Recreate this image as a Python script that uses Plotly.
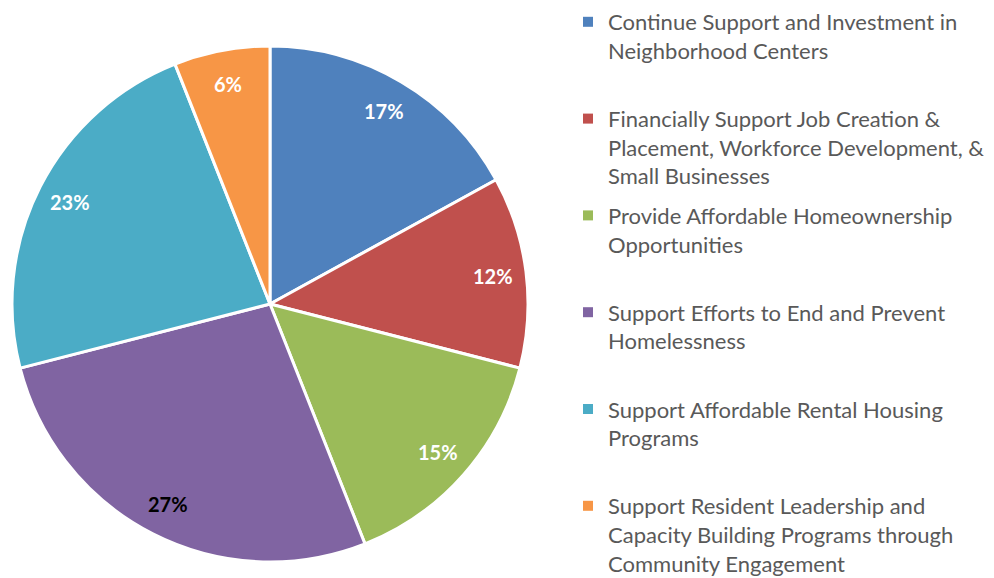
import math
import plotly.graph_objects as go

categories = [
    "Continue Support and Investment in<br>Neighborhood Centers",
    "Financially Support Job Creation &<br>Placement, Workforce Development, &<br>Small Businesses",
    "Provide Affordable Homeownership<br>Opportunities",
    "Support Efforts to End and Prevent<br>Homelessness",
    "Support Affordable Rental Housing<br>Programs",
    "Support Resident Leadership and<br>Capacity Building Programs through<br>Community Engagement",
]
values = [17, 12, 15, 27, 23, 6]
colors = ["#4F81BD", "#C0504D", "#9BBB59", "#8064A2", "#4BACC6", "#F79646"]
label_colors = ["white", "white", "white", "black", "white", "white"]

W, H = 994, 578
# pie domain (paper fractions)
dom_x = [4 / W, 520 / W]
dom_y = [24 / H, 540 / H]

fig = go.Figure()
fig.add_trace(go.Pie(
    labels=[c.replace("<br>", " ") for c in categories],
    values=values,
    sort=False,
    direction="clockwise",
    rotation=0,
    marker=dict(colors=colors, line=dict(color="white", width=3)),
    textinfo="none",
    domain=dict(x=dom_x, y=dom_y),
    hoverinfo="label+percent",
    showlegend=False,
))

# legend entries (one per slice), padded to equal height
max_lines = max(c.count("<br>") + 1 for c in categories)
for cat, col in zip(categories, colors):
    pad = max_lines - (cat.count("<br>") + 1)
    fig.add_trace(go.Scatter(
        x=[None], y=[None], mode="markers",
        marker=dict(symbol="square", size=10, color=col),
        name=cat + "<br> " * pad,
        legendgroup=cat,
        showlegend=True,
        hoverinfo="skip",
    ))

# percentage labels placed along each slice's mid-angle
total = sum(values)
cx = (dom_x[0] + dom_x[1]) / 2 * W
cy = (1 - (dom_y[0] + dom_y[1]) / 2) * H
R = min((dom_x[1] - dom_x[0]) * W, (dom_y[1] - dom_y[0]) * H) / 2
r_lab = 0.87 * R
cum = 0
for v, tc in zip(values, label_colors):
    frac = (cum + v / 2) / total
    ang = math.radians(90 - 360 * frac)
    px = cx + r_lab * math.cos(ang)
    py = cy - r_lab * math.sin(ang)
    fig.add_annotation(
        x=px / W, y=1 - py / H, xref="paper", yref="paper",
        xanchor="center", yanchor="middle",
        text="<b>%d%%</b>" % round(100 * v / total),
        showarrow=False,
        font=dict(family="Lato", size=20, color=tc),
    )
    cum += v

fig.update_layout(
    width=W, height=H,
    margin=dict(l=0, r=0, t=0, b=0, autoexpand=False),
    paper_bgcolor="white",
    plot_bgcolor="white",
    xaxis=dict(visible=False),
    yaxis=dict(visible=False),
    showlegend=True,
    legend=dict(
        x=560 / W, xanchor="left",
        y=1 + 7 / H, yanchor="top",
        valign="top",
        font=dict(family="Lato", size=22, color="#595959"),
        traceorder="grouped",
        tracegroupgap=8,
        maxheight=1000,
        bgcolor="rgba(0,0,0,0)",
    ),
)

fig.write_html("out.html")
